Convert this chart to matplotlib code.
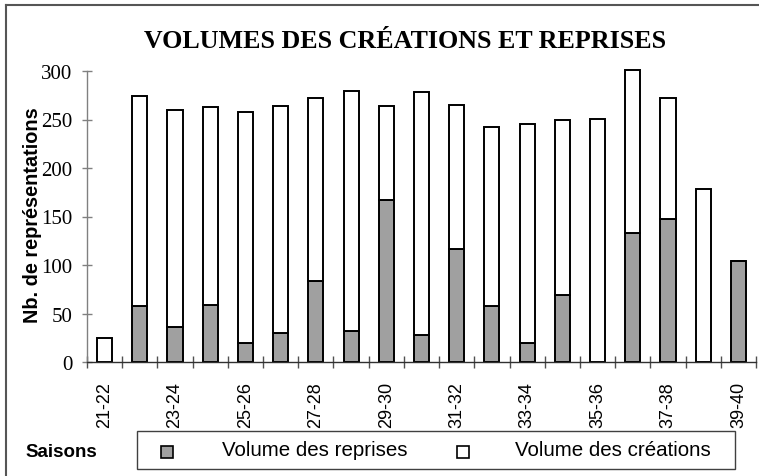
import numpy as np
import matplotlib.pyplot as plt
from matplotlib.patches import Rectangle
from matplotlib.lines import Line2D

# seasons 1921-22 to 1939-40
saisons = ['21-22', '22-23', '23-24', '24-25', '25-26', '26-27', '27-28', '28-29', '29-30', '30-31',
           '31-32', '32-33', '33-34', '34-35', '35-36', '36-37', '37-38', '38-39', '39-40']
totaux = [25, 274, 260, 263, 258, 264, 272, 279, 264, 278, 265, 242, 245, 249, 251, 301, 272, 178, 104]
reprises = [0, 58, 36, 59, 20, 30, 84, 32, 167, 28, 116, 58, 20, 69, 0, 133, 147, 0, 104]
creations = [t - r for t, r in zip(totaux, reprises)]

W, H = 759, 477
def fx(px):
    return px / W
def fy(py):
    return 1 - py / H

gris = '#a0a0a0'

fig = plt.figure(figsize=(W / 100, H / 100), dpi=100)
ax = fig.add_axes([fx(87), fy(363), fx(756) - fx(87), fy(72) - fy(363)])

x = np.arange(len(saisons))
ax.bar(x, reprises, width=0.43, color=gris, edgecolor='black', linewidth=1.4, clip_on=False)
ax.bar(x, creations, width=0.43, bottom=reprises, color='white', edgecolor='black', linewidth=1.4, clip_on=False)

ax.set_xlim(-0.5, len(saisons) - 0.5)
ax.set_ylim(0, 300)

for s in ['top', 'right']:
    ax.spines[s].set_visible(False)
ax.spines['left'].set_color('#808080')
ax.spines['left'].set_linewidth(1)
ax.spines['bottom'].set_color('#303030')
ax.spines['bottom'].set_linewidth(1)

ax.set_yticks([0, 50, 100, 150, 200, 250, 300])
ax.tick_params(axis='y', direction='inout', length=7, width=1, color='#808080', pad=7,
               labelsize=15)
for lab in ax.get_yticklabels():
    lab.set_family('Liberation Serif')

ax.set_xticks(np.arange(-0.5, len(saisons), 1.0))
ax.set_xticklabels([])
ax.tick_params(axis='x', which='major', direction='inout', length=8.6, width=1, color='#505050')
ax.set_xticks(x[::2], minor=True)
ax.set_xticklabels(saisons[::2], minor=True, rotation=90, family='Liberation Sans', fontsize=13)
ax.tick_params(axis='x', which='minor', length=0, pad=13.5)

fig.text(fx(405), fy(48), 'VOLUMES DES CRÉATIONS ET REPRISES', ha='center', va='baseline',
         family='Liberation Serif', fontweight='bold', fontsize=18.7)
fig.text(fx(33), fy(215), 'Nb. de représentations', rotation=90, ha='center', va='center',
         family='Liberation Sans', fontweight='bold', fontsize=14.3)
fig.text(fx(25), fy(453), 'Saisons', ha='left', va='center',
         family='Liberation Sans', fontweight='bold', fontsize=13.5)

# legend box drawn by hand
fig.patches.append(Rectangle((fx(137), fy(470)), fx(735) - fx(137), fy(432) - fy(470),
                             transform=fig.transFigure, facecolor='white', edgecolor='#404040', lw=1))
fig.patches.append(Rectangle((fx(161), fy(459)), fx(12), fy(0) - fy(12), transform=fig.transFigure,
                             facecolor=gris, edgecolor='black', lw=1.2))
fig.patches.append(Rectangle((fx(457), fy(459)), fx(12), fy(0) - fy(12), transform=fig.transFigure,
                             facecolor='white', edgecolor='black', lw=1.2))
fig.text(fx(222), fy(451), 'Volume des reprises', ha='left', va='center',
         family='Liberation Sans', fontsize=14.8)
fig.text(fx(515), fy(451), 'Volume des créations', ha='left', va='center',
         family='Liberation Sans', fontsize=14.8)

# outer frame
fig.lines.append(Line2D([fx(6), fx(6)], [fy(6), fy(477)], transform=fig.transFigure, color='#555555', lw=1.5))
fig.lines.append(Line2D([fx(6), fx(759)], [fy(6), fy(6)], transform=fig.transFigure, color='#555555', lw=1.5))

fig.savefig('out.png', dpi=100)
